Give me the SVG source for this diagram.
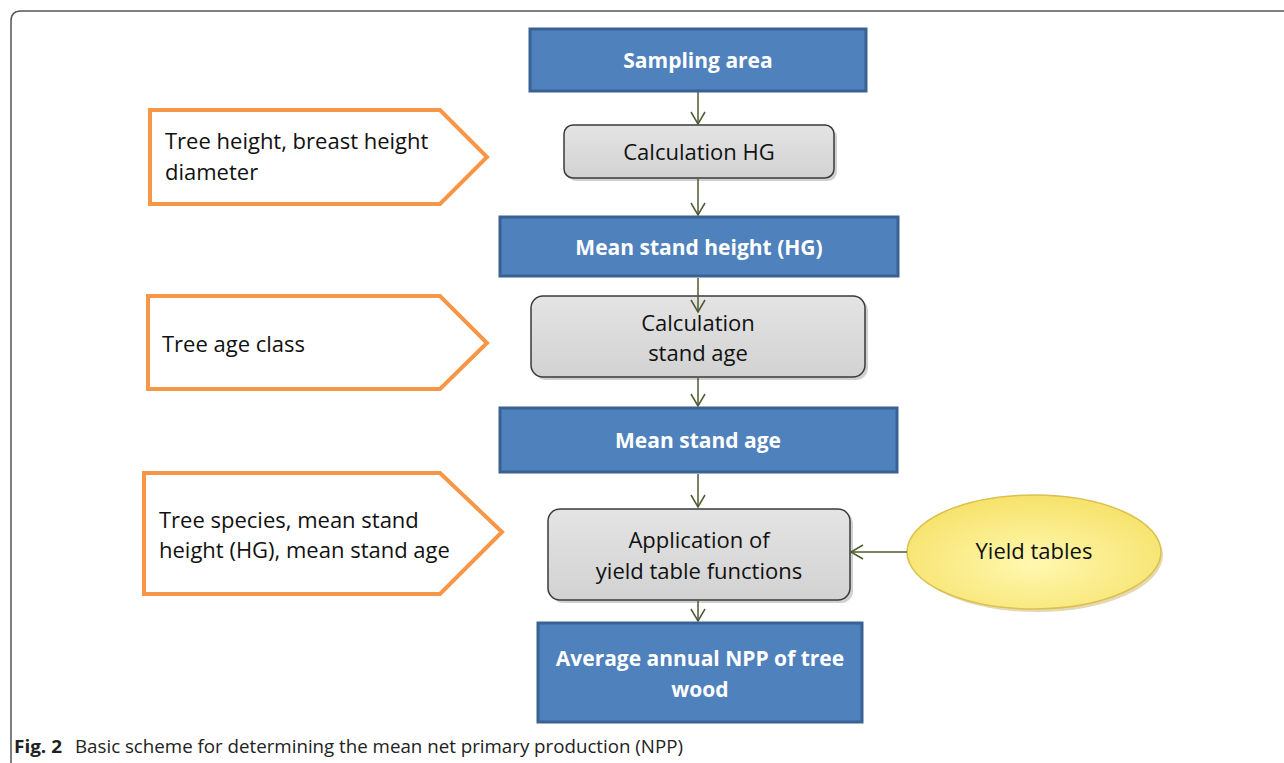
<svg xmlns="http://www.w3.org/2000/svg" width="1284" height="763" viewBox="0 0 1284 763">
<style>
.blue{fill:#4f81bd;stroke:#3a6194;stroke-width:3}
.grey{fill:url(#gg);stroke:#3a3a3a;stroke-width:1.5}
.shadow{fill:#b0b0b0;opacity:0.6}
.pent{fill:#ffffff;stroke:#f79646;stroke-width:4;stroke-linejoin:miter}
.wt{font-family:"Open Sans","Liberation Sans",sans-serif;font-weight:bold;font-size:21px;fill:#ffffff;text-anchor:middle}
.bt{font-family:"Open Sans","Liberation Sans",sans-serif;font-size:22px;fill:#111111;text-anchor:middle}
.lt{font-family:"Open Sans","Liberation Sans",sans-serif;font-size:22px;fill:#111111}
.conn{stroke:#4e5b31;stroke-width:1.5;fill:none;marker-end:url(#ah)}
.cap{font-family:"Open Sans","Liberation Sans",sans-serif;font-size:18px;fill:#222222}
</style>
<defs>
<linearGradient id="gg" x1="0" y1="0" x2="0" y2="1">
<stop offset="0" stop-color="#e4e4e4"/>
<stop offset="1" stop-color="#d2d2d2"/>
</linearGradient>
<radialGradient id="yg" cx="0.5" cy="0.6" r="0.6">
<stop offset="0" stop-color="#fff8b0"/>
<stop offset="1" stop-color="#f6e26a"/>
</radialGradient>
<marker id="ah" markerWidth="16" markerHeight="16" refX="14" refY="8" orient="auto" markerUnits="userSpaceOnUse">
<path d="M2,1 L14,8 L2,15" fill="none" stroke="#4e5b31" stroke-width="1.5"/>
</marker>
</defs>
<rect width="1284" height="763" fill="#ffffff"/>
<path d="M11,763 L11,21 Q11,11 21,11 L1284,11" fill="none" stroke="#555555" stroke-width="1.5"/>

<g id="sampling-area">
<rect class="blue" x="530" y="29" width="336" height="62"/>
<text class="wt" x="698" y="68">Sampling area</text>
</g>

<g id="input-tree-height">
<path class="pent" d="M150,110 L440,110 L487,157 L440,204 L150,204 Z"/>
<text class="lt" x="165" y="149">Tree height, breast height</text>
<text class="lt" x="165" y="180">diameter</text>
</g>

<g id="calculation-hg">
<rect class="shadow" x="567" y="128" width="270" height="53" rx="9"/>
<rect class="grey" x="564" y="125" width="270" height="53" rx="9"/>
<text class="bt" x="699" y="160">Calculation HG</text>
</g>

<g id="mean-stand-height">
<rect class="blue" x="500" y="217" width="398" height="59"/>
<text class="wt" x="699" y="255">Mean stand height (HG)</text>
</g>

<g id="input-tree-age">
<path class="pent" d="M148,296 L440,296 L487,343 L440,389 L148,389 Z"/>
<text class="lt" x="162" y="352">Tree age class</text>
</g>

<g id="calculation-stand-age">
<rect class="shadow" x="534" y="299" width="334" height="81" rx="12"/>
<rect class="grey" x="531" y="296" width="334" height="81" rx="12"/>
<text class="bt" x="698" y="331">Calculation</text>
<text class="bt" x="698" y="361">stand age</text>
</g>

<g id="mean-stand-age">
<rect class="blue" x="500" y="408" width="397" height="64"/>
<text class="wt" x="698" y="448">Mean stand age</text>
</g>

<g id="input-species">
<path class="pent" d="M144,473 L440,473 L502,532 L440,594 L144,594 Z"/>
<text class="lt" x="159" y="528">Tree species, mean stand</text>
<text class="lt" x="159" y="558">height (HG), mean stand age</text>
</g>

<g id="application">
<rect class="shadow" x="551" y="512" width="302" height="91" rx="12"/>
<rect class="grey" x="548" y="509" width="302" height="91" rx="12"/>
<text class="bt" x="699" y="548">Application of</text>
<text class="bt" x="699" y="579">yield table functions</text>
</g>

<g id="yield-tables">
<ellipse cx="1037" cy="555" rx="126" ry="57" fill="#c8b56a" opacity="0.5"/>
<ellipse cx="1034" cy="552" rx="127" ry="57" fill="url(#yg)" stroke="#dcc050" stroke-width="1.5"/>
<text class="bt" x="1034" y="559">Yield tables</text>
</g>

<g id="average-npp">
<rect class="blue" x="538" y="623" width="324" height="99"/>
<text class="wt" x="700" y="666">Average annual NPP of tree</text>
<text class="wt" x="700" y="697">wood</text>
</g>

<g id="connectors">
<line class="conn" x1="698" y1="92" x2="698" y2="124"/>
<line class="conn" x1="698" y1="179" x2="698" y2="215"/>
<line class="conn" x1="698" y1="278" x2="698" y2="312"/>
<line class="conn" x1="698" y1="378" x2="698" y2="406"/>
<line class="conn" x1="698" y1="474" x2="698" y2="507"/>
<line class="conn" x1="698" y1="601" x2="698" y2="621"/>
<line class="conn" x1="907" y1="552" x2="851" y2="552"/>
</g>

<text class="cap" x="14" y="753" font-weight="bold" textLength="48" lengthAdjust="spacingAndGlyphs">Fig. 2</text>
<text class="cap" x="75" y="753" textLength="608" lengthAdjust="spacingAndGlyphs">Basic scheme for determining the mean net primary production (NPP)</text>
</svg>
